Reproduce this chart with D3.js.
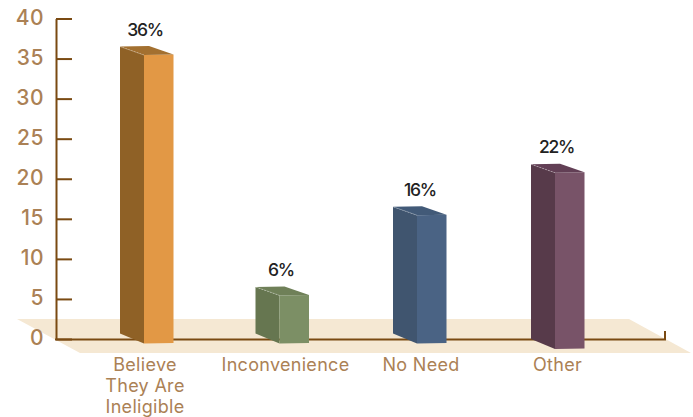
<!DOCTYPE html>
<html>
<head>
<meta charset="utf-8">
<script src="https://cdn.jsdelivr.net/npm/d3@7"></script>
<style>
  html, body { margin: 0; padding: 0; background: #fff; }
  svg { display: block; }
  text { font-family: Inter, Lato, sans-serif; }
</style>
</head>
<body>
<div id="chart"></div>
<script>
const categories = ['Believe They Are Ineligible', 'Inconvenience', 'No Need', 'Other'];
const categoryLines = [['Believe', 'They Are', 'Ineligible'], ['Inconvenience'], ['No Need'], ['Other']];
const values = [36, 6, 16, 22];
const percentLabels = ['36%', '6%', '16%', '22%'];
const yTicks = [0, 5, 10, 15, 20, 25, 30, 35, 40];
const frontColors = ['#e29845', '#7c8f65', '#4a6384', '#785368'];
const sideColors = ['#8f6126', '#667650', '#40556f', '#573a4a'];
const topColors = ['#a37030', '#6f8058', '#425a78', '#623f55'];

const width = 693, height = 417;
const axisColor = '#7a4a12', labelColor = '#ab8155';

const svg = d3.select('#chart').append('svg')
  .attr('width', width)
  .attr('height', height);

const y = d3.scaleLinear().domain([0, 40]).range([339, 18.5]);
// bars and their labels are not quite evenly spaced in the picture
const x = d3.scaleOrdinal().domain(categories).range([120, 255.5, 393, 531]);
const xPercent = d3.scaleOrdinal().domain(categories).range([145, 281, 420, 556.5]);
const xLabel = d3.scaleOrdinal().domain(categories).range([145, 285.5, 421, 557.5]);

// the floor
svg.append('polygon')
  .attr('points', '17,319 629,319 691,353 80,353')
  .attr('fill', '#f5e8d3');

// y axis, ticks point into the plot
const yAxis = d3.axisLeft(y)
  .tickValues(yTicks)
  .tickSizeInner(-16)
  .tickSizeOuter(0)
  .tickPadding(12);

const axisG = svg.append('g')
  .attr('transform', 'translate(56,0)')
  .call(yAxis);
axisG.select('.domain').attr('stroke', axisColor).attr('stroke-width', 2);
axisG.selectAll('.tick line').attr('stroke', axisColor).attr('stroke-width', 2);
axisG.selectAll('.tick text')
  .attr('fill', labelColor)
  .attr('font-size', 21)
  .attr('font-weight', 500)
  .attr('dy', '0.28em')
  .style('font-family', 'Inter, Lato, sans-serif')
  .style('letter-spacing', '0.5px');

// x axis line with the little end tick
svg.append('path')
  .attr('d', 'M55,339.5H665V331')
  .attr('fill', 'none')
  .attr('stroke', axisColor)
  .attr('stroke-width', 2);

// bars: side face, front face, top face
const sideW = 24, frontW = 29.5, depth = 8.5;
const barDrop = [4.5, 4.5, 4.5, 10]; // the last bar sits a bit lower on the floor

const bars = svg.append('g').selectAll('g')
  .data(categories)
  .join('g');

bars.each(function (c, i) {
  const g = d3.select(this);
  const left = x(c);
  const mid = left + sideW;
  const right = mid + frontW;
  const bottom = y(0) + barDrop[i];
  const top = y(values[i]) + barDrop[i];

  g.append('polygon')
    .attr('points', [[left, top - depth], [mid, top], [mid, bottom], [left, bottom - depth - 1.5]].join(' '))
    .attr('fill', sideColors[i]);
  g.append('polygon')
    .attr('points', [[mid, top], [right, top - 0.5], [right, bottom - 0.5], [mid, bottom]].join(' '))
    .attr('fill', frontColors[i]);
  g.append('polygon')
    .attr('points', [[left, top - depth], [left + 29, top - depth - 0.5], [right, top - 0.5], [mid, top]].join(' '))
    .attr('fill', topColors[i]);
  g.append('line')
    .attr('x1', left).attr('y1', top - depth)
    .attr('x2', mid).attr('y2', top)
    .attr('stroke', '#fff')
    .attr('stroke-opacity', 0.3)
    .attr('stroke-dasharray', '2 1');

  g.append('text')
    .attr('x', xPercent(c))
    .attr('y', top - 19.5)
    .attr('text-anchor', 'middle')
    .attr('fill', '#222')
    .attr('font-size', 17.5)
    .attr('font-weight', 500)
    .style('letter-spacing', '-1.3px')
    .text(percentLabels[i]);

  const label = g.append('text')
    .attr('text-anchor', 'middle')
    .attr('fill', labelColor)
    .attr('font-size', 18)
    .style('letter-spacing', '0.3px');
  label.selectAll('tspan')
    .data(categoryLines[i])
    .join('tspan')
    .attr('x', xLabel(c))
    .attr('y', (d, k) => 371 + k * 21)
    .text(d => d);
});
</script>
</body>
</html>
